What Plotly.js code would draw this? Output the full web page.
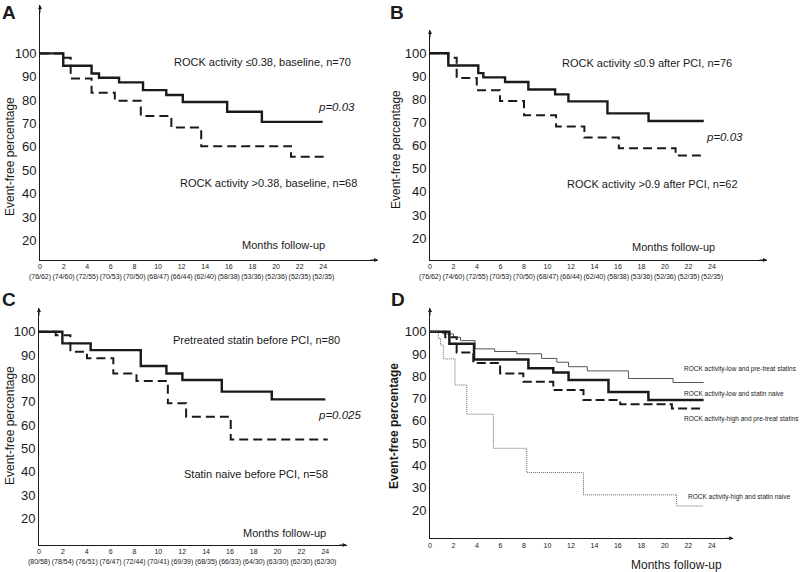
<!DOCTYPE html>
<html><head><meta charset="utf-8">
<script src="https://cdn.plot.ly/plotly-3.0.1.min.js"></script>
<style>html,body{margin:0;padding:0;background:#fff}#chart{width:800px;height:572px}</style>
</head><body><div id="chart"></div>
<script>
// ---------- data ----------
const monthTicks = [0,2,4,6,8,10,12,14,16,18,20,22,24];
const yTicks = [20,30,40,50,60,70,80,90,100];
const atRiskAB = ["(76/62)","(74/60)","(72/55)","(70/53)","(70/50)","(68/47)","(66/44)","(62/40)","(58/38)","(53/36)","(52/36)","(52/35)","(52/35)"];
const atRiskC  = ["(80/58)","(78/54)","(76/51)","(76/47)","(72/44)","(70/41)","(69/39)","(68/35)","(66/33)","(64/30)","(63/30)","(62/30)","(62/30)"];

// Panel A
const aLowX  = [0, 1.97, 4.37, 5.0, 6.7, 8.73, 10.7, 12.1, 15.86, 18.8, 23.95];
const aLowY  = [100, 94.7, 91.4, 89.6, 87.6, 84.3, 82.2, 79.2, 75.0, 70.7, 70.7];
const aHighX = [0, 1.97, 2.6, 4.37, 6.34, 8.54, 11.13, 13.66, 21.27, 24.1];
const aHighY = [100, 98.1, 89.3, 83.2, 79.7, 73.2, 68.3, 60.3, 55.8, 55.8];
// Panel B
const bLowX  = [0, 1.56, 4.11, 4.54, 6.39, 8.37, 10.65, 11.78, 15.1, 18.6, 23.3];
const bLowY  = [100, 94.7, 91.4, 89.6, 87.6, 84.3, 82.2, 79.2, 74.0, 70.7, 70.7];
const bHighX = [0, 1.56, 2.27, 3.98, 5.96, 8.0, 10.73, 13.14, 16.07, 20.9, 23.3];
const bHighY = [100, 98.1, 89.3, 84.0, 79.3, 73.2, 68.3, 63.5, 58.9, 55.8, 55.8];
// Panel C
const cPreX   = [0, 1.96, 4.33, 8.53, 10.68, 12.02, 15.32, 19.51, 24.0];
const cPreY   = [100, 95.0, 92.1, 85.3, 82.1, 79.3, 74.3, 71.0, 71.0];
const cNaiveX = [0, 1.4, 2.63, 4.02, 6.23, 8.17, 10.8, 12.33, 16.07, 24.2];
const cNaiveY = [100, 98.5, 91.4, 88.6, 82.1, 78.9, 69.3, 63.5, 53.8, 53.8];
// Panel D
const dLowPreX    = [0, 1.1, 2.0, 2.6, 3.84, 5.5, 7.39, 9.5, 10.8, 11.8, 13.4, 16.9, 20.7, 23.3];
const dLowPreY    = [100, 99, 97.5, 96, 92.3, 91.1, 90.1, 88.0, 86.3, 84.3, 82.4, 79.0, 77.2, 77.2];
const dLowNaiveX  = [0, 1.65, 3.75, 8.38, 10.5, 11.8, 15.2, 18.6, 23.3];
const dLowNaiveY  = [100, 94.6, 87.5, 83.6, 81.7, 78.3, 73.0, 69.3, 69.3];
const dHighPreX   = [0, 1.3, 2.27, 3.69, 5.97, 7.95, 10.5, 13.07, 16.2, 20.6, 23.3];
const dHighPreY   = [100, 97.5, 90.7, 86.0, 81.3, 77.5, 73.8, 69.3, 67.5, 65.5, 65.5];
const dHighNaiveX = [0, 0.71, 0.9, 1.14, 2.13, 3.13, 5.4, 8.24, 13.07, 21.0, 23.3];
const dHighNaiveY = [100, 97, 94, 87.8, 76.1, 63, 47.7, 36.8, 26.8, 21.8, 21.8];

// ---------- helpers ----------
const W = 800, H = 572;
const FONT = '"Liberation Sans", Arial, Helvetica, sans-serif';
const INK = '#1a1a1a';
const px = v => v / W;
const py = v => 1 - v / H;

function step(x, y, ax, style) {
  return {
    x: x, y: y, xaxis: 'x' + ax, yaxis: 'y' + ax, type: 'scatter', mode: 'lines',
    hoverinfo: 'skip', showlegend: false,
    line: Object.assign({ shape: 'hv', color: INK }, style)
  };
}
const solid = { width: 2.4 };
const dashed = { width: 2, dash: '9px,5px' };

const traces = [
  step(aLowX, aLowY, '', solid), step(aHighX, aHighY, '', dashed),
  step(bLowX, bLowY, '2', solid), step(bHighX, bHighY, '2', dashed),
  step(cPreX, cPreY, '3', solid), step(cNaiveX, cNaiveY, '3', dashed),
  step(dLowPreX, dLowPreY, '4', { width: 1, color: '#555' }),
  step(dLowNaiveX, dLowNaiveY, '4', { width: 2.5 }),
  step(dHighPreX, dHighPreY, '4', { width: 2, dash: '9px,4px' }),
  step(dHighNaiveX, dHighNaiveY, '4', { width: 1, color: '#666', dash: '1px,1px' })
];

function xAx(dom, range, labels) {
  return {
    domain: dom, range: range, showgrid: false, zeroline: false,
    showline: true, linecolor: INK, linewidth: 1, ticks: '', tickangle: 0,
    tickmode: 'array', tickvals: monthTicks,
    ticktext: labels ? monthTicks.map((m, i) => m + '<br>' + labels[i]) : monthTicks.map(String),
    tickfont: { family: FONT, size: 7, color: INK }, fixedrange: true
  };
}
function yAx(dom, range) {
  return {
    domain: dom, range: range, showgrid: false, zeroline: false,
    showline: true, linecolor: INK, linewidth: 1, ticks: '',
    tickmode: 'array', tickvals: yTicks,
    tickfont: { family: FONT, size: 13, color: INK }, fixedrange: true
  };
}

const anns = [];
function txt(t, x, y, size, opts) {
  anns.push(Object.assign({ text: t, x: px(x), y: py(y), xref: 'paper', yref: 'paper',
    showarrow: false, xanchor: 'center', yanchor: 'middle',
    font: { family: FONT, size: size, color: INK } }, opts || {}));
}
function arrows(ax, xmax, ymin, ymax) {
  anns.push({ x: xmax, y: ymin, xref: 'x' + ax, yref: 'y' + ax, ax: -9, ay: 0, text: '',
    showarrow: true, arrowhead: 2, arrowsize: 0.8, arrowwidth: 1, arrowcolor: INK });
  anns.push({ x: 0, y: ymax, xref: 'x' + ax, yref: 'y' + ax, ax: 0, ay: 9, text: '',
    showarrow: true, arrowhead: 2, arrowsize: 0.8, arrowwidth: 1, arrowcolor: INK });
}

// axis ranges
const rA = { x: [0, 28.64], y: [11.6, 120.7] };
const rB = { x: [0, 28.68], y: [10.52, 110.09] };
const rC = { x: [0, 25.79], y: [8.57, 110.16] };
const rD = { x: [0, 25.83], y: [7.31, 110.63] };

arrows('', rA.x[1], rA.y[0], rA.y[1]);
arrows('2', rB.x[1], rB.y[0], rB.y[1]);
arrows('3', rC.x[1], rC.y[0], rC.y[1]);
arrows('4', rD.x[1], rD.y[0], rD.y[1]);

// panel letters
txt('<b>A</b>', 9, 13, 19);
txt('<b>B</b>', 397, 13, 19);
txt('<b>C</b>', 9, 299, 19);
txt('<b>D</b>', 398, 299, 19);

// y titles
txt('Event-free percentage', 10, 157, 12, { textangle: -90 });
txt('Event-free percentage', 396, 150, 12, { textangle: -90 });
txt('Event-free percentage', 10, 426, 12, { textangle: -90 });
txt('<b>Event-free percentage</b>', 394, 426, 12, { textangle: -90 });

// panel A texts
txt('ROCK activity \u22640.38, baseline, n=70', 262, 62, 11);
txt('<i>p=0.03</i>', 336, 107, 11.5);
txt('ROCK activity >0.38, baseline, n=68', 268, 183, 11);
txt('Months follow-up', 283, 245, 11);
// panel B texts
txt('ROCK activity \u22640.9 after PCI, n=76', 647, 63, 11);
txt('<i>p=0.03</i>', 724, 137, 11.5);
txt('ROCK activity >0.9 after PCI, n=62', 652, 184, 11);
txt('Months follow-up', 673, 247, 11);
// panel C texts
txt('Pretreated statin before PCI, n=80', 256, 340, 11);
txt('<i>p=0.025</i>', 339, 415, 11.5);
txt('Statin naive before PCI, n=58', 256, 474, 11);
txt('Months follow-up', 284, 533, 11);
// panel D texts
txt('ROCK activity-low and pre-treat statins', 682, 369, 6.5, { xanchor: 'left' });
txt('ROCK activity-low and statin naive', 682, 394, 6.5, { xanchor: 'left' });
txt('ROCK activity-high and pre-treat statins', 682, 419, 6.5, { xanchor: 'left' });
txt('ROCK activity-high and statin naive', 686, 497, 6.5, { xanchor: 'left' });
txt('Months follow-up', 676, 565, 12);

const layout = {
  width: W, height: H, margin: { l: 0, r: 0, t: 0, b: 0 },
  paper_bgcolor: '#fff', plot_bgcolor: 'rgba(0,0,0,0)',
  font: { family: FONT, color: INK },
  showlegend: false,
  xaxis:  Object.assign(xAx([px(40), px(378)], rA.x, atRiskAB), { anchor: 'y' }),
  yaxis:  Object.assign(yAx([py(260), py(5)], rA.y), { anchor: 'x' }),
  xaxis2: Object.assign(xAx([px(430), px(767)], rB.x, atRiskAB), { anchor: 'y2' }),
  yaxis2: Object.assign(yAx([py(260), py(30)], rB.y), { anchor: 'x2' }),
  xaxis3: Object.assign(xAx([px(39), px(346.7)], rC.x, atRiskC), { anchor: 'y3' }),
  yaxis3: Object.assign(yAx([py(545), py(308)], rC.y), { anchor: 'x3' }),
  xaxis4: Object.assign(xAx([px(430), px(733.3)], rD.x, null), { anchor: 'y4' }),
  yaxis4: Object.assign(yAx([py(538.3), py(308)], rD.y), { anchor: 'x4' }),
  annotations: anns
};

Plotly.newPlot('chart', traces, layout, { displayModeBar: false, staticPlot: true });
</script>
</body></html>
